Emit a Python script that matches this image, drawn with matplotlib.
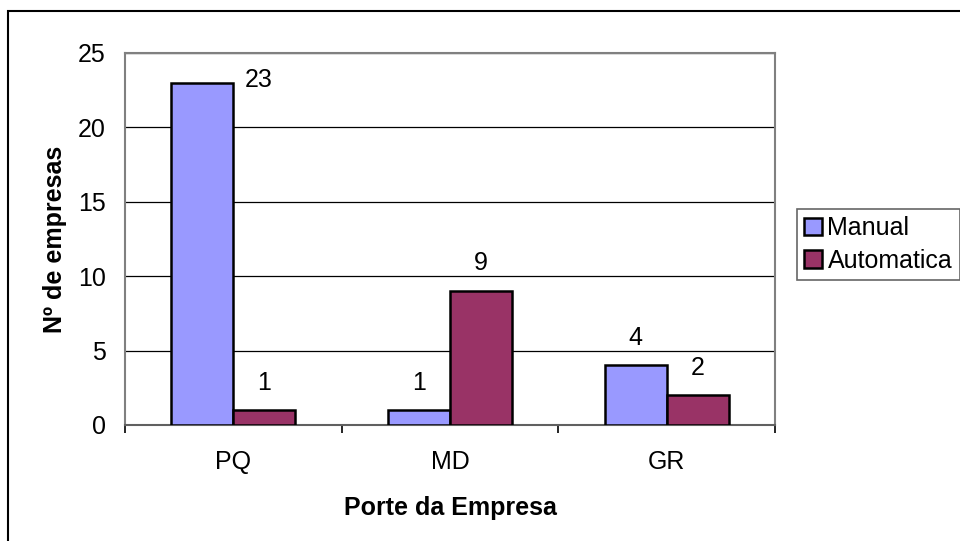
import numpy as np
import matplotlib
matplotlib.use("Agg")
import matplotlib.pyplot as plt
from matplotlib.patches import Rectangle

plt.rcParams['font.family'] = ['Liberation Sans', 'DejaVu Sans']

categories = ['PQ', 'MD', 'GR']
manual = [23, 1, 4]
automatica = [1, 9, 2]
series_names = ['Manual', 'Automatica']

colors = {'Manual': '#9999FF', 'Automatica': '#993366'}

# value labels sit ~27 px above the bar; Excel pushed the tall one sideways
label_nudge = {
    'Manual': [(56, 3), (0, 27), (0, 27)],
    'Automatica': [(0, 27), (0, 28), (0, 27)],
}

FS = 18

fig = plt.figure(figsize=(9.6, 5.41), dpi=100)
ax = fig.add_axes([125 / 960, 116 / 541, 650 / 960, 372 / 541])

# outer chart frame (runs off the right and bottom edges)
fig.patches.append(Rectangle((8 / 960, -0.1), 1.2, (541 - 11) / 541 + 0.1,
                             transform=fig.transFigure, fill=False,
                             edgecolor='black', linewidth=1.5))

x = np.arange(len(categories))
w = 0.286
for k, (name, vals) in enumerate(zip(series_names, [manual, automatica])):
    pos = x - w / 2 if k == 0 else x + w / 2
    ax.bar(pos, vals, width=w, color=colors[name], edgecolor='black',
           linewidth=1.8, label=name, zorder=3)
    for p, v, (dx, dy) in zip(pos, vals, label_nudge[name]):
        ax.annotate(str(v), (p, v), xytext=(dx * 0.72, dy * 0.72),
                    textcoords='offset points', ha='center', va='center',
                    fontsize=FS, color='black')

ax.set_xlim(-0.5, 2.5)
ax.set_ylim(0, 25)
ax.set_yticks([0, 5, 10, 15, 20, 25])
ax.set_xticks([-0.5, 0.5, 1.5, 2.5], minor=True)
ax.set_xticks(x)
ax.set_xticklabels(categories)
ax.tick_params(axis='x', which='major', length=0, pad=18, labelsize=FS)
ax.tick_params(axis='x', which='minor', length=6, width=1.2,
               direction='out', color='black')
ax.tick_params(axis='y', length=0, labelsize=FS, pad=14)

ax.yaxis.grid(True, color='black', linewidth=0.9)
ax.set_axisbelow(True)
for s in ['top', 'right', 'left']:
    ax.spines[s].set_color('#808080')
    ax.spines[s].set_linewidth(1.5)
ax.spines['bottom'].set_color('#606060')
ax.spines['bottom'].set_linewidth(1.5)

ax.set_xlabel('Porte da Empresa', fontsize=FS, fontweight='bold', labelpad=15.5)
ax.set_ylabel('Nº de empresas', fontsize=FS, fontweight='bold', labelpad=7.5)

leg = ax.legend(loc='center left', bbox_to_anchor=(1.0338, 0.485), frameon=True,
                fancybox=False, edgecolor='#404040', fontsize=FS,
                handlelength=0.72, handleheight=0.72, handletextpad=0.2,
                borderpad=0.3, labelspacing=0.35, borderaxespad=0)
leg.get_frame().set_linewidth(1.2)
for h in leg.legend_handles:
    h.set_linewidth(1.8)

fig.savefig('out.png', dpi=100, facecolor='white')
